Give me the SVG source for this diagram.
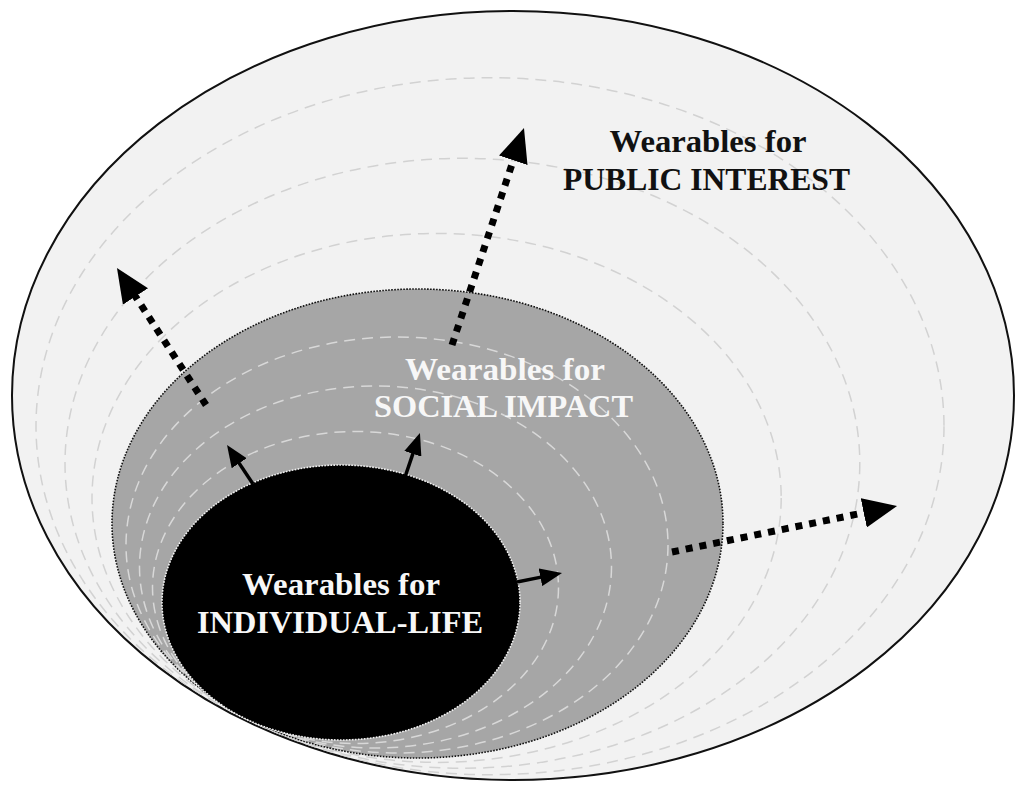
<svg xmlns="http://www.w3.org/2000/svg" width="1024" height="790" viewBox="0 0 1024 790">
<style>
.lbl{font-family:"Liberation Serif","DejaVu Serif",serif;font-size:32px;font-weight:bold;text-anchor:middle}
.dk{fill:#111}
.wt{fill:#f7f7f7}
.dashO{fill:none;stroke:#d2d2d2;stroke-width:1.5;stroke-dasharray:11 7}
.dashG{fill:none;stroke:#d8d8d8;stroke-width:1.5;stroke-dasharray:11 7}
.dotted{fill:none;stroke:#000;stroke-width:7;stroke-dasharray:7 7}
.solid{fill:none;stroke:#000;stroke-width:3.5}
</style>
<defs>
<clipPath id="clipOuter"><ellipse cx="513" cy="395.5" rx="500" ry="383.5"/></clipPath>
<clipPath id="clipGray"><ellipse cx="417.5" cy="523.5" rx="305" ry="234"/></clipPath>
<marker id="bigHead" viewBox="0 0 34 30" markerWidth="34" markerHeight="30" refX="2" refY="15" orient="auto" markerUnits="userSpaceOnUse"><path d="M0,0 L34,15 L0,30 z" fill="#000"/></marker>
<marker id="smallHead" viewBox="0 0 22 18" markerWidth="22" markerHeight="18" refX="2" refY="9" orient="auto" markerUnits="userSpaceOnUse"><path d="M0,0 L22,9 L0,18 z" fill="#000"/></marker>
</defs>
<rect width="1024" height="790" fill="#fff"/>
<g id="public-interest">
<ellipse cx="513" cy="395.5" rx="501" ry="384.5" fill="#f2f2f2" stroke="#111" stroke-width="2"/>
<g clip-path="url(#clipOuter)">
<ellipse class="dashO" cx="436.6" cy="497.9" rx="344.6" ry="264.5"/>
<ellipse class="dashO" cx="462.4" cy="463.3" rx="397.4" ry="305"/>
<ellipse class="dashO" cx="490" cy="426.2" rx="454" ry="348.5"/>
</g>
<text class="lbl dk" x="708" y="152" textLength="197" lengthAdjust="spacingAndGlyphs">Wearables for</text>
<text class="lbl dk" x="706.5" y="190" textLength="287" lengthAdjust="spacingAndGlyphs">PUBLIC INTEREST</text>
</g>
<g id="social-impact">
<ellipse cx="417.5" cy="523.5" rx="305.5" ry="234.5" fill="#a6a6a6" stroke="#111" stroke-width="1.6" stroke-dasharray="1.6 1.4"/>
<g clip-path="url(#clipGray)">
<ellipse class="dashG" cx="355.5" cy="587.5" rx="203" ry="156"/>
<ellipse class="dashG" cx="375.5" cy="567" rx="236" ry="181"/>
<ellipse class="dashG" cx="397" cy="545" rx="271" ry="208"/>
</g>
<text class="lbl wt" x="505" y="380" textLength="200" lengthAdjust="spacingAndGlyphs">Wearables for</text>
<text class="lbl wt" x="503.5" y="417" textLength="259" lengthAdjust="spacingAndGlyphs">SOCIAL IMPACT</text>
</g>
<g id="individual-life">
<ellipse cx="341" cy="602.5" rx="179" ry="137.5" fill="#000" stroke="#f2f2f2" stroke-width="1.6" stroke-dasharray="1.6 1.4"/>
<text class="lbl wt" x="341" y="595" textLength="198" lengthAdjust="spacingAndGlyphs">Wearables for</text>
<text class="lbl wt" x="340" y="633" textLength="286" lengthAdjust="spacingAndGlyphs">INDIVIDUAL-LIFE</text>
</g>
<g id="connectors">
<line class="dotted" x1="206" y1="405" x2="134.4" y2="294.8" marker-end="url(#bigHead)"/>
<line class="dotted" x1="452" y1="345" x2="513.9" y2="158.4" marker-end="url(#bigHead)"/>
<line class="dotted" x1="672" y1="552" x2="865.7" y2="512.4" marker-end="url(#bigHead)"/>
<line class="solid" x1="253" y1="484" x2="238.1" y2="461.6" marker-end="url(#smallHead)"/>
<line class="solid" x1="405" y1="477" x2="413.5" y2="451.9" marker-end="url(#smallHead)"/>
<line class="solid" x1="517" y1="582" x2="542.4" y2="576.9" marker-end="url(#smallHead)"/>
</g>
</svg>
